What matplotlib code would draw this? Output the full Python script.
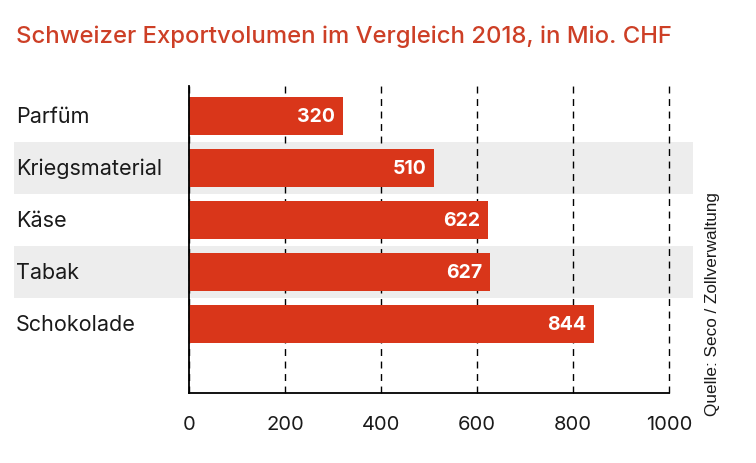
import matplotlib
matplotlib.use("Agg")
from matplotlib import pyplot as plt
from matplotlib import transforms

plt.rcParams['font.family'] = ['Inter', 'DejaVu Sans']

# data
categories = ["Parfüm", "Kriegsmaterial", "Käse", "Tabak", "Schokolade"]
values = [320, 510, 622, 627, 844]
xticks = [0, 200, 400, 600, 800, 1000]
title = "Schweizer Exportvolumen im Vergleich 2018, in Mio. CHF"
source = "Quelle: Seco / Zollverwaltung"

bar_color = "#d9361a"
band_color = "#ededed"
title_color = "#cd3f26"

fig = plt.figure(figsize=(7.56, 4.64), dpi=100)
ax = fig.add_axes([0.25, 0.1509, 0.635, 0.6616])

pos = list(range(len(categories)))

# grey bands behind every second row, reaching past the axes
for i in pos:
    if i % 2 == 1:
        ax.axhspan(i - 0.5, i + 0.5, xmin=-0.3635, xmax=1.049,
                   color=band_color, clip_on=False, zorder=0, lw=0)

ax.barh(pos, values, height=0.72, color=bar_color, zorder=2)

for i, v in zip(pos, values):
    ax.text(v - 16, i, str(v), ha='right', va='center', color='white',
            fontsize=14, fontweight='bold', zorder=3)

# category labels at the left edge of the figure
trans = transforms.blended_transform_factory(fig.transFigure, ax.transData)
for i, c in zip(pos, categories):
    ax.text(16 / 756, i, c, transform=trans, ha='left', va='center',
            fontsize=15.5, color='#1a1a1a')

ax.set_xlim(0, 1000)
ax.set_ylim(5.33, -0.58)
ax.set_yticks([])
ax.set_xticks(xticks)
ax.set_xticklabels([str(t) for t in xticks], fontsize=14.5, color='#1a1a1a')
ax.tick_params(axis='x', length=0, pad=16)

ax.grid(axis='x', color='black', linestyle=(0, (5, 4)), linewidth=1)
ax.set_axisbelow(True)
for gl in ax.get_xgridlines():
    gl.set_zorder(1)
    gl.set_clip_on(False)

ax.spines['top'].set_visible(False)
ax.spines['right'].set_visible(False)
ax.spines['left'].set_linewidth(1.3)
ax.spines['bottom'].set_linewidth(1.3)
ax.spines['left'].set_zorder(4)
ax.patch.set_alpha(0)

fig.text(16 / 756, 1 - 37 / 464, title, ha='left', va='center',
         fontsize=17.2, fontweight='medium', color=title_color)

fig.text(712 / 756, 1 - 304 / 464, source, rotation=90, ha='center',
         va='center', fontsize=12.3, color='#1a1a1a',
         family=['Liberation Sans', 'DejaVu Sans'])

fig.savefig("out.png", dpi=100)
